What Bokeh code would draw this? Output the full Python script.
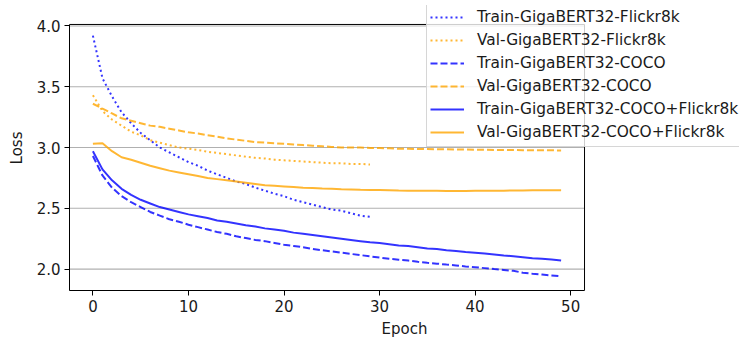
from bokeh.plotting import figure
from bokeh.models import (Legend, LegendItem, FixedTicker, PrintfTickFormatter, Range1d,
                          BoxAnnotation)
from bokeh.embed import file_html
from bokeh.resources import INLINE

# ---- data ----
epochs_flickr = list(range(30))
epochs_coco = list(range(50))

train_flickr = [3.92, 3.57, 3.42, 3.29, 3.20, 3.12, 3.06, 3.00, 2.96, 2.92,
                2.88, 2.85, 2.81, 2.78, 2.75, 2.72, 2.70, 2.67, 2.645, 2.62,
                2.60, 2.57, 2.55, 2.53, 2.51, 2.49, 2.48, 2.46, 2.44, 2.43]
val_flickr = [3.43, 3.30, 3.23, 3.18, 3.13, 3.10, 3.06, 3.04, 3.02, 3.00,
              2.99, 2.98, 2.965, 2.955, 2.945, 2.935, 2.925, 2.915, 2.91, 2.90,
              2.895, 2.89, 2.885, 2.88, 2.875, 2.87, 2.87, 2.865, 2.865, 2.86]
train_coco = [2.93, 2.77, 2.67, 2.60, 2.55, 2.51, 2.47, 2.44, 2.41, 2.39,
              2.365, 2.345, 2.325, 2.305, 2.29, 2.27, 2.255, 2.24, 2.23, 2.215,
              2.20, 2.19, 2.18, 2.165, 2.155, 2.145, 2.135, 2.125, 2.115, 2.105,
              2.095, 2.085, 2.077, 2.07, 2.06, 2.052, 2.045, 2.037, 2.03, 2.022,
              2.015, 2.008, 2.0, 1.993, 1.986, 1.97, 1.962, 1.955, 1.948, 1.94]
val_coco = [3.36, 3.32, 3.28, 3.24, 3.22, 3.20, 3.18, 3.17, 3.155, 3.14,
            3.125, 3.115, 3.10, 3.09, 3.075, 3.065, 3.055, 3.045, 3.04, 3.035,
            3.03, 3.025, 3.02, 3.015, 3.01, 3.005, 3.00, 3.0, 3.0, 2.997,
            2.995, 2.993, 2.99, 2.99, 2.988, 2.987, 2.986, 2.985, 2.984, 2.983,
            2.982, 2.981, 2.98, 2.98, 2.979, 2.978, 2.978, 2.977, 2.977, 2.976]
train_both = [2.97, 2.82, 2.73, 2.66, 2.61, 2.57, 2.54, 2.51, 2.49, 2.47,
              2.45, 2.435, 2.42, 2.40, 2.39, 2.375, 2.36, 2.35, 2.335, 2.325,
              2.315, 2.30, 2.29, 2.28, 2.27, 2.26, 2.25, 2.24, 2.23, 2.22,
              2.215, 2.205, 2.195, 2.19, 2.18, 2.17, 2.165, 2.155, 2.148, 2.14,
              2.135, 2.128, 2.12, 2.112, 2.105, 2.098, 2.09, 2.085, 2.078, 2.07]
val_both = [3.03, 3.035, 2.97, 2.92, 2.90, 2.875, 2.85, 2.83, 2.81, 2.795,
            2.78, 2.765, 2.75, 2.74, 2.73, 2.72, 2.71, 2.70, 2.69, 2.685,
            2.68, 2.675, 2.67, 2.667, 2.663, 2.66, 2.657, 2.655, 2.652, 2.65,
            2.65, 2.648, 2.646, 2.645, 2.645, 2.644, 2.644, 2.643, 2.643, 2.643,
            2.644, 2.644, 2.645, 2.645, 2.646, 2.647, 2.648, 2.648, 2.648, 2.648]

labels = ["Train-GigaBERT32-Flickr8k", "Val-GigaBERT32-Flickr8k",
          "Train-GigaBERT32-COCO", "Val-GigaBERT32-COCO",
          "Train-GigaBERT32-COCO+Flickr8k", "Val-GigaBERT32-COCO+Flickr8k"]
x_ticks = [0, 10, 20, 30, 40, 50]
y_ticks = [2.0, 2.5, 3.0, 3.5, 4.0]

# axes box limits (data units) and the wider drawing area that also holds the legend
XMIN, XMAX = -2.45, 51.45
YMIN, YMAX = 1.824, 4.012

FONT = "DejaVu Sans"
FS = "15px"
FS_LEG = "15.4px"
BLUE = "#0000ff"
ORANGE = "#ffa500"
TXT = "#1a1a1a"

p = figure(width=739, height=340, output_backend="svg", toolbar_location=None,
           x_range=Range1d(XMIN, 67.67), y_range=Range1d(YMIN, 4.168),
           min_border_left=69, min_border_right=0, min_border_top=5,
           min_border_bottom=49)
p.background_fill_color = "white"
p.border_fill_color = "white"
p.outline_line_color = None

p.xgrid.visible = False
p.ygrid.visible = False

# horizontal grid lines, limited to the axes box
p.segment(x0=[XMIN] * len(y_ticks), x1=[XMAX] * len(y_ticks), y0=y_ticks, y1=y_ticks,
          line_color="#b0b0b0", line_width=1.1, level="underlay")

p.xaxis.ticker = FixedTicker(ticks=x_ticks)
p.yaxis.ticker = FixedTicker(ticks=y_ticks)
p.yaxis.formatter = PrintfTickFormatter(format="%.1f")
p.xaxis.bounds = (XMIN, XMAX)
p.yaxis.bounds = (YMIN, YMAX)
for ax in (p.xaxis[0], p.yaxis[0]):
    ax.axis_line_color = "black"
    ax.axis_line_width = 1
    ax.major_tick_line_color = "black"
    ax.major_tick_line_width = 1
    ax.major_tick_out = 5
    ax.major_tick_in = 0
    ax.minor_tick_out = 0
    ax.minor_tick_in = 0
    ax.major_label_text_font = FONT
    ax.major_label_text_font_size = FS
    ax.major_label_text_color = TXT
    ax.axis_label_text_font = FONT
    ax.axis_label_text_font_size = FS
    ax.axis_label_text_font_style = "normal"
    ax.axis_label_text_color = TXT
    ax.major_label_standoff = 4
p.xaxis.axis_label = "Epoch"
p.yaxis.axis_label = "Loss"
p.xaxis.axis_label_standoff = 5
p.yaxis.axis_label_standoff = 8

LW = 2
ALPHA = 0.8
r1 = p.line(epochs_flickr, train_flickr, line_color=BLUE, line_width=LW, line_alpha=ALPHA, line_dash="2 3")
r2 = p.line(epochs_flickr, val_flickr, line_color=ORANGE, line_width=LW, line_alpha=ALPHA, line_dash="2 3")
r3 = p.line(epochs_coco, train_coco, line_color=BLUE, line_width=LW, line_alpha=ALPHA, line_dash="7 3")
r4 = p.line(epochs_coco, val_coco, line_color=ORANGE, line_width=LW, line_alpha=ALPHA, line_dash="7 3")
r5 = p.line(epochs_coco, train_both, line_color=BLUE, line_width=LW, line_alpha=ALPHA)
r6 = p.line(epochs_coco, val_both, line_color=ORANGE, line_width=LW, line_alpha=ALPHA)

# axes box (spines)
p.add_layout(BoxAnnotation(left=XMIN, right=XMAX, bottom=YMIN, top=YMAX,
                           fill_alpha=0, fill_color=None, line_color="black",
                           line_width=1, line_alpha=1))

items = [LegendItem(label=lab, renderers=[r]) for lab, r in zip(labels, [r1, r2, r3, r4, r5, r6])]
legend = Legend(items=items, location=(357, 143),
                label_text_font=FONT, label_text_font_size=FS_LEG, label_text_color=TXT,
                glyph_width=34, glyph_height=22, label_height=22, label_standoff=13,
                spacing=1, padding=3, margin=0,
                border_line_color="#cccccc", border_line_width=1, border_line_alpha=0.8,
                background_fill_color="white", background_fill_alpha=0.8)
p.add_layout(legend, "center")

open("out.html", "w").write(file_html(p, INLINE))
